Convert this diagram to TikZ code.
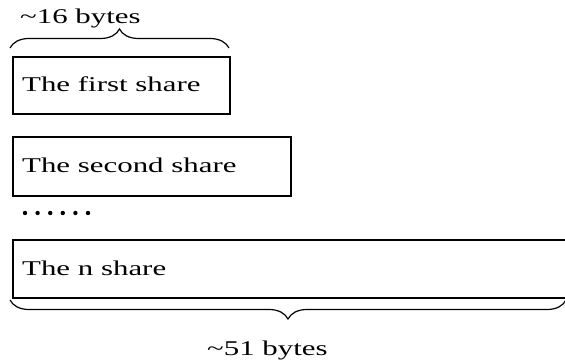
\documentclass[tikz,border=0pt]{standalone}
\usepackage{fontspec}
\setmainfont{Liberation Serif}
\usetikzlibrary{decorations.pathreplacing}
\newcommand{\widetext}[1]{\scalebox{1.47}[1]{#1}}
\tikzset{
  sharebox/.style={draw=black, line width=2.2pt, rectangle, inner sep=0pt, anchor=north west},
  lbl/.style={inner sep=0pt, anchor=base west, font=\fontsize{21}{24}\selectfont},
  bracestyle/.style={draw=black, line width=1.2pt, decorate, decoration={brace, amplitude=19pt}},
  dotstyle/.style={fill=black, draw=none}
}
\begin{document}
\begin{tikzpicture}[x=1pt,y=-1pt]
\useasboundingbox (0,0) rectangle (565,361);
% boxes
\node[sharebox, minimum width=217pt, minimum height=57pt] (b1) at (12,56) {};
\node[sharebox, minimum width=278pt, minimum height=59pt] (b2) at (12,136) {};
\node[sharebox, minimum width=558pt, minimum height=58pt] (b3) at (12,239) {};
% box texts
\node[lbl] (t1) at (22,92) {\widetext{The first share}};
\node[lbl] (t2) at (22,172.5) {\widetext{The second share}};
\node[lbl] (t3) at (22,275) {\widetext{The n share}};
% dots
\foreach \i in {0,...,5} {
  \fill[dotstyle] (25+12.6*\i,213) circle (2.2pt);
}
% braces
\coordinate (ta) at (10,48);
\coordinate (tb) at (229,48);
\draw[bracestyle] (ta) -- (tb);
\coordinate (ba) at (566,300);
\coordinate (bb) at (10,300);
\draw[bracestyle] (ba) -- (bb);
% labels
\node[lbl] (l1) at (20,24) {\widetext{\textasciitilde 16 bytes}};
\node[lbl] (l2) at (207,355) {\widetext{\textasciitilde 51 bytes}};
\end{tikzpicture}
\end{document}
